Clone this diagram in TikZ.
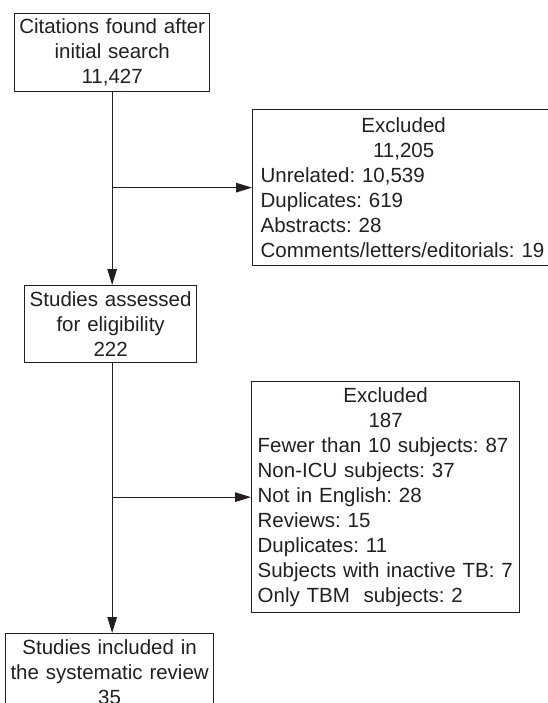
\documentclass[tikz,border=0pt]{standalone}
\usepackage{fontspec}
\setmainfont{Liberation Sans}
\usepackage{xcolor}
\usetikzlibrary{arrows.meta,calc}
\definecolor{ink}{RGB}{35,31,32}
\newcommand{\midline}[1]{\makebox[\hsize]{#1}}
\frenchspacing

\begin{document}
\begin{tikzpicture}[x=1pt,y=1pt,
    box/.style={draw=ink,line width=1.3pt,anchor=north west,inner ysep=2pt,
      font=\fontsize{20.5}{25}\selectfont,text=ink},
    centrebox/.style={box,align=center,inner xsep=4pt},
    listbox/.style={box,align=left,inner xsep=8pt},
    arr/.style={draw=ink,line width=1.3pt,-{Triangle[length=16pt,width=9.5pt]}}]
  \useasboundingbox (0,0) rectangle (547,-703);
  \node[centrebox,text width=187pt,minimum height=78pt] (cit) at (14,-13)
    {Citations found after\\initial search\\11,427};
  \node[listbox,text width=286pt,minimum height=156pt] (exa) at (252,-109)
    {\midline{Excluded}\\\midline{11,205}\\Unrelated: 10,539\\Duplicates: 619\\Abstracts: 28\\Comments/letters/editorials: 19};
  \node[centrebox,text width=164pt,minimum height=77pt] (asd) at (24,-285)
    {Studies assessed\\for eligibility\\222};
  \node[listbox,inner xsep=6pt,text width=256pt,minimum height=231pt] (exb) at (251,-381)
    {\midline{Excluded}\\\midline{187}\\Fewer than 10 subjects: 87\\Non-ICU subjects: 37\\Not in English: 28\\Reviews: 15\\Duplicates: 11\\Subjects with inactive TB: 7\\Only TBM\ \ subjects: 2};
  \node[centrebox,text width=200pt,minimum height=78pt] (inc) at (5,-633)
    {Studies included in\\the systematic review\\35};
  \coordinate (ja) at (exa.west -| cit.south);
  \coordinate (jb) at (exb.west -| cit.south);
  \draw[arr] (cit.south) -- (asd.north -| cit.south);
  \draw[arr] (ja) -- (exa.west);
  \draw[arr] (asd.south -| cit.south) -- (inc.north -| cit.south);
  \draw[arr] (jb) -- (exb.west);
\end{tikzpicture}
\end{document}
